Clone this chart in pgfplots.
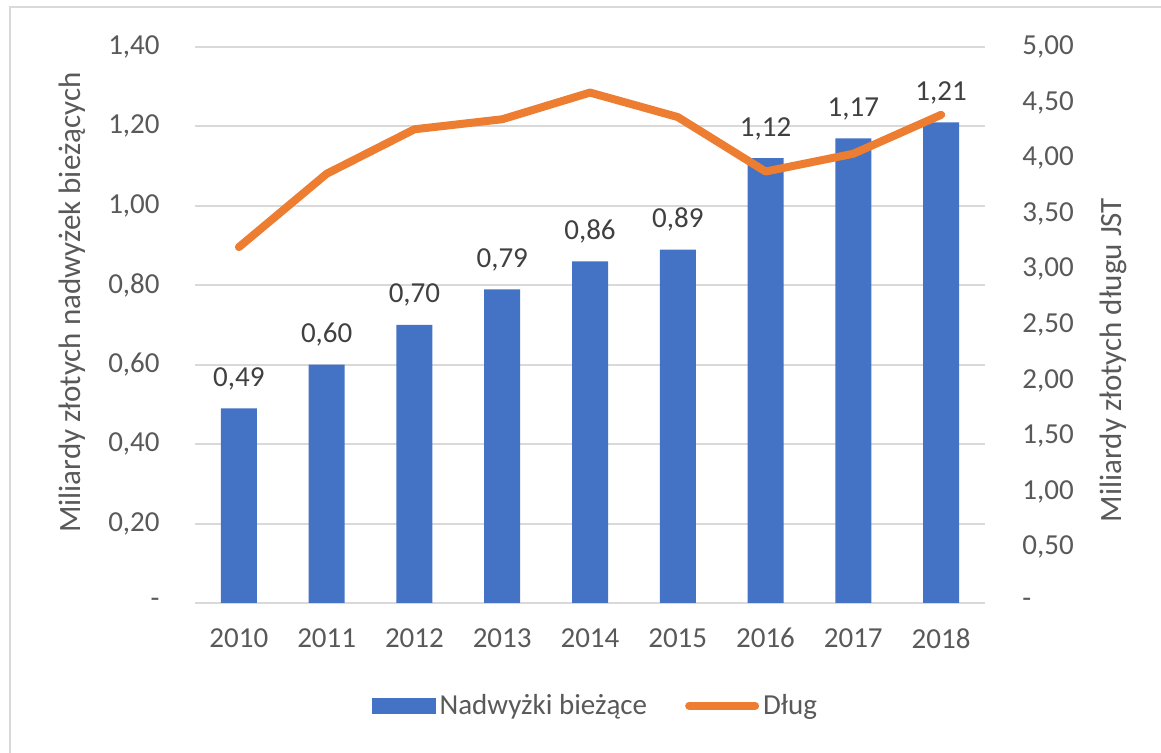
\documentclass[border=0pt]{standalone}
\usepackage{fontspec}
\setmainfont{Carlito}
\usepackage{pgfplots}
\pgfplotsset{compat=1.18}

\definecolor{barblue}{HTML}{4472C4}
\definecolor{lineorange}{HTML}{ED7D31}
\definecolor{gridgray}{HTML}{D9D9D9}
\definecolor{ticktext}{HTML}{595959}
\definecolor{labeltext}{HTML}{404040}
\newcommand\cf{\fontsize{14.5pt}{17pt}\selectfont}
\newcommand\tf{\fontsize{15.5pt}{18pt}\selectfont}

\begin{document}
\begin{tikzpicture}
% lewa os: nadwyzki biezace (slupki)
\begin{axis}[
    width=395pt, height=278pt, scale only axis,
    xmin=2009.5, xmax=2018.5,
    ymin=0, ymax=1.4,
    xtick={2010,...,2018},
    xticklabel style={/pgf/number format/1000 sep=, inner sep=0pt, anchor=north, yshift=-12.5pt},
    ytick={0,0.2,0.4,0.6,0.8,1.0,1.2,1.4},
    yticklabels={{-},{0,20},{0,40},{0,60},{0,80},{1,00},{1,20},{1,40}},
    yticklabel style={inner sep=0pt, anchor=east, xshift=-17.5pt},
    /pgf/number format/assume math mode=true,
    tick style={draw=none},
    axis line style={draw=none},
    ymajorgrids, grid style={gridgray, line width=1pt},
    ticklabel style={font=\cf, text=ticktext},
    ylabel={Miliardy złotych nadwyżek bieżących},
    ylabel style={at={(axis description cs:-0.156,0.54)}, anchor=center, font=\tf, text=ticktext},
    legend style={at={(0.508,-0.185)}, anchor=center, draw=none, fill=none,
        legend columns=2, font=\cf, text=ticktext,
        /tikz/every even column/.append style={column sep=17pt}},
    legend cell align=left,
]
\addplot[ybar, bar width=18pt, fill=barblue, draw=none,
    nodes near coords={\pgfmathprintnumber[fixed,fixed zerofill,precision=2,use comma]{\pgfplotspointmeta}},
    nodes near coords style={font=\cf, text=labeltext, anchor=south, inner sep=0pt, yshift=9pt},
    legend image code/.code={\fill[barblue] (0pt,-4pt) rectangle (32pt,4pt);}]
    coordinates {(2010,0.49) (2011,0.60) (2012,0.70) (2013,0.79) (2014,0.86)
                 (2015,0.89) (2016,1.12) (2017,1.17) (2018,1.21)};
\addlegendentry{Nadwyżki bieżące}
\addlegendimage{legend image code/.code={\draw[lineorange, line width=4pt, line cap=round] (1pt,0pt) -- (34pt,0pt);}}
\addlegendentry{Dług}
\end{axis}
% prawa os: dlug (linia)
\begin{axis}[
    width=395pt, height=278pt, scale only axis,
    xmin=2009.5, xmax=2018.5,
    ymin=0, ymax=5,
    axis y line*=right, hide x axis,
    ytick={0,0.5,1,1.5,2,2.5,3,3.5,4,4.5,5},
    yticklabels={{-},{0,50},{1,00},{1,50},{2,00},{2,50},{3,00},{3,50},{4,00},{4,50},{5,00}},
    yticklabel style={inner sep=0pt, anchor=west, xshift=18.5pt, font=\cf, text=ticktext},
    tick style={draw=none},
    axis line style={draw=none},
    ylabel={Miliardy złotych długu JST},
    ylabel style={at={(axis description cs:1.162,0.437)}, anchor=center, font=\tf, text=ticktext},
]
\addplot[lineorange, line width=4pt, line join=round, line cap=round, mark=none]
    coordinates {(2010,3.20) (2011,3.86) (2012,4.26) (2013,4.35) (2014,4.59)
                 (2015,4.37) (2016,3.88) (2017,4.04) (2018,4.39)};
\end{axis}
\draw[gridgray, line width=1pt] (-92.5pt,-90pt) -- (-92.5pt,298pt) -- (495pt,298pt);
\pgfresetboundingbox
\path[use as bounding box] (-97.5pt,-75pt) rectangle (483pt,301.5pt);
\end{tikzpicture}
\end{document}
